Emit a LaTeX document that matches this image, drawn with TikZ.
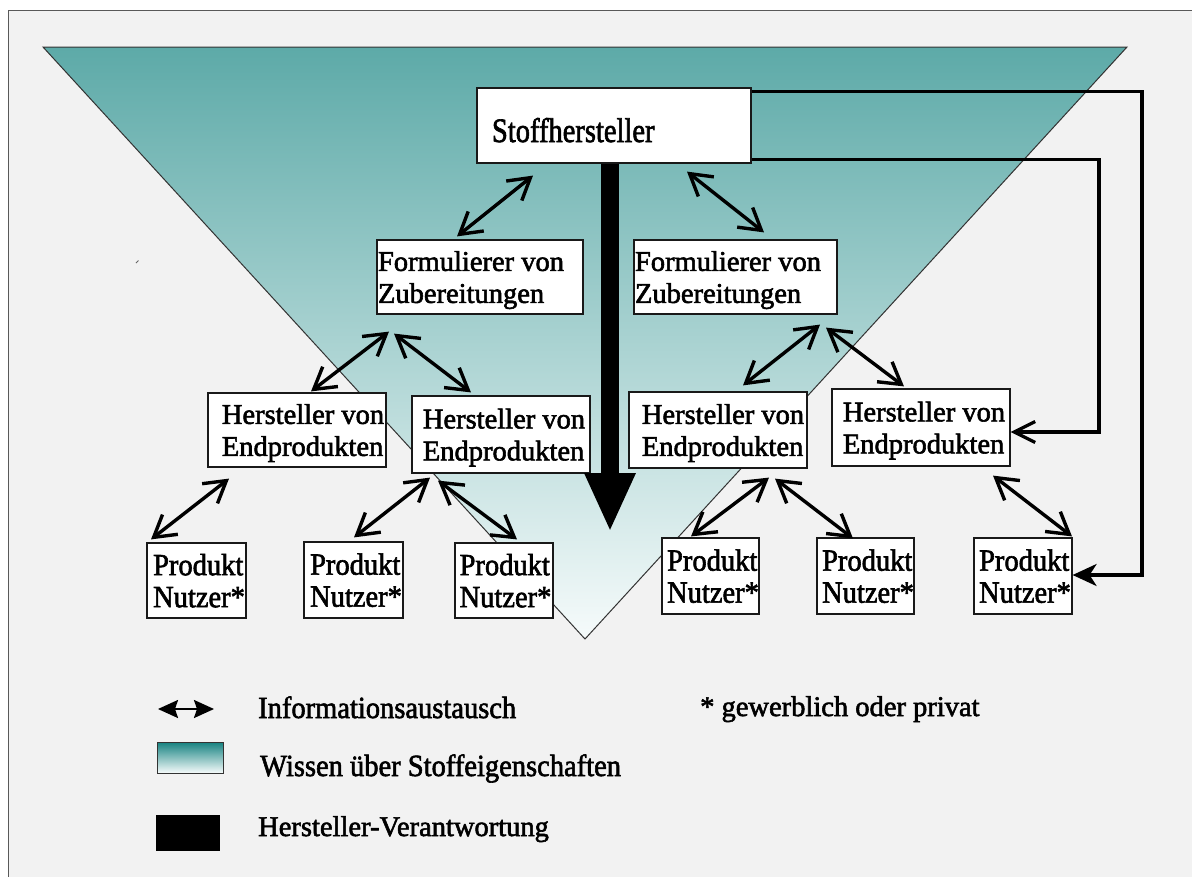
\documentclass[tikz,border=0pt]{standalone}
\usepackage{fontspec}
\setmainfont{Liberation Serif}[FakeBold=2]
\usetikzlibrary{arrows.meta}
\definecolor{bg}{HTML}{F2F2F2}
\definecolor{tealtop}{RGB}{93,170,168}
\definecolor{tealbot}{RGB}{246,251,251}
\definecolor{legtop}{RGB}{22,130,128}
\newcommand{\pd}[1]{\hspace*{#1pt}}
\newcommand{\vs}[2]{\scalebox{1}[#1]{#2}}
\begin{document}
\begin{tikzpicture}[x=1pt,y=-1pt,
  box/.style={draw=black!90, line width=1.2pt, fill=white, inner sep=0pt, align=left,
    font=\fontsize{28.5}{32}\selectfont, text depth=0pt},
  dar/.style={line width=3.4pt, {Straight Barb[length=21pt,width=25pt]}-{Straight Barb[length=21pt,width=25pt]}},
  feedbarb/.style={line width=3.2pt, -{Straight Barb[length=21pt,width=21pt]}},
  feedfill/.style={line width=3.2pt, -{Stealth[length=24pt,width=22pt,inset=7pt]}},
  resp/.style={line width=18pt, -{Triangle[length=59pt,width=47pt]}},
  legar/.style={line width=2.2pt, {Stealth[length=20pt,width=18pt,inset=3pt]}-{Stealth[length=20pt,width=18pt,inset=3pt]}},
  legtext/.style={anchor=base west, inner sep=0pt, font=\fontsize{28.5}{32}\selectfont}
]
\useasboundingbox (0,0) rectangle (1192,876);
\fill[white] (0,0) rectangle (1192,876);
\filldraw[fill=bg, draw=black!65, line width=1pt] (8.5,10.5) rectangle (1194,878);

% knowledge triangle
\shade[top color=tealtop, bottom color=tealbot] (43,47) -- (1127,47) -- (585,639) -- cycle;
\draw[line width=1pt, black!80, line join=miter] (43,47) -- (1127,47) -- (585,639) -- cycle;
\draw[line width=0.8pt, black!60] (136,263) -- (138.5,260.5);

% boxes
\node[box, text width=244pt, inner xsep=15pt, minimum height=75pt, text height=33pt] (stoff) at (614,125.5) {\vs{1.2}{Stoffhersteller}};
\node[box, minimum width=206pt, minimum height=74pt] (f1) at (480,277) {\pd{-18}Formulierer von\\\pd{-18}Zubereitungen};
\node[box, minimum width=203pt, minimum height=74pt] (f2) at (735.5,277) {\pd{-15}Formulierer von\\\pd{-15}Zubereitungen};
\node[box, minimum width=178pt, minimum height=74pt] (h1) at (297,430) {\pd{12}Hersteller von\\\pd{12}Endprodukten};
\node[box, minimum width=178pt, minimum height=77pt] (h2) at (501,434.5) {\pd{6}Hersteller von\\\pd{6}Endprodukten};
\node[box, minimum width=178pt, minimum height=76pt] (h3) at (718,430) {\pd{10}Hersteller von\\\pd{10}Endprodukten};
\node[box, minimum width=178pt, minimum height=77pt] (h4) at (921,427.5) {\pd{6}Hersteller von\\\pd{6}Endprodukten};
\node[box, minimum width=99pt, minimum height=75pt] (p1) at (196.5,580.5) {\pd{5}\vs{1.08}{Produkt}\\\pd{5}\vs{1.08}{Nutzer*}};
\node[box, minimum width=99pt, minimum height=76pt] (p2) at (353.5,580) {\pd{5}\vs{1.08}{Produkt}\\\pd{5}\vs{1.08}{Nutzer*}};
\node[box, minimum width=98pt, minimum height=75pt] (p3) at (504,580.5) {\pd{3}\vs{1.08}{Produkt}\\\pd{3}\vs{1.08}{Nutzer*}};
\node[box, minimum width=97pt, minimum height=76pt] (p4) at (710.5,576) {\pd{5}\vs{1.08}{Produkt}\\\pd{5}\vs{1.08}{Nutzer*}};
\node[box, minimum width=97pt, minimum height=76pt] (p5) at (865.5,576) {\pd{5}\vs{1.08}{Produkt}\\\pd{5}\vs{1.08}{Nutzer*}};
\node[box, minimum width=98pt, minimum height=76pt] (p6) at (1023,576) {\pd{4}\vs{1.08}{Produkt}\\\pd{4}\vs{1.08}{Nutzer*}};

% responsibility arrow
\coordinate (resptip) at (610,532);
\draw[resp] ([xshift=-4pt]stoff.south) -- (resptip);

% information exchange arrows
\draw[dar] ([shift={(-81,12)}]stoff.south) -- ([shift={(-23,-3)}]f1.north);
\draw[dar] ([shift={(73,8)}]stoff.south) -- ([shift={(28.5,-7)}]f2.north);
\draw[dar] ([shift={(-91,17)}]f1.south) -- ([shift={(14,-1)}]h1.north);
\draw[dar] ([shift={(-86,19)}]f1.south) -- ([shift={(-30,-3)}]h2.north);
\draw[dar] ([shift={(84.5,10)}]f2.south) -- ([shift={(25,-6)}]h3.north);
\draw[dar] ([shift={(90.5,13)}]f2.south) -- ([shift={(-17,-2)}]h4.north);
\draw[dar] ([shift={(-68,11)}]h1.south) -- ([shift={(-45.5,-3)}]p1.north);
\draw[dar] ([shift={(-71,4)}]h2.south) -- ([shift={(0.5,-4)}]p2.north);
\draw[dar] ([shift={(-63,7)}]h2.south) -- ([shift={(13,-3)}]p3.north);
\draw[dar] ([shift={(51,9)}]h3.south) -- ([shift={(-19.5,-1)}]p4.north);
\draw[dar] ([shift={(57,10)}]h3.south) -- ([shift={(-12.5,1)}]p5.north);
\draw[dar] ([shift={(72,9)}]h4.south) -- ([shift={(49,-1)}]p6.north);

% direct lines from Stoffhersteller
\coordinate (r1) at (1142,575);
\coordinate (r2) at (1099,432);
\draw[feedfill, line join=miter] ([shift={(0,4)}]stoff.north east) -| (r1) -- (p6.east |- r1);
\draw[feedbarb, line join=miter] ([shift={(0,-4)}]stoff.south east) -| (r2) -- (h4.east |- r2);

% legend
\coordinate (la) at (158,709);
\coordinate (lb) at (214,709);
\draw[legar] (la) -- (lb);
\node[legtext] (l1) at (258,718) {\vs{1.08}{Informationsaustausch}};
\shade[top color=legtop, bottom color=tealbot, draw=black!80, line width=1pt] (157,742) rectangle (223,773);
\node[legtext] (l2) at (260,776) {\vs{1.08}{Wissen über Stoffeigenschaften}};
\fill[black] (156,815) rectangle (220,851);
\node[legtext] (l3) at (258,836) {Hersteller-Verantwortung};
\node[legtext] (l4) at (700,716) {* gewerblich oder privat};
\end{tikzpicture}
\end{document}
